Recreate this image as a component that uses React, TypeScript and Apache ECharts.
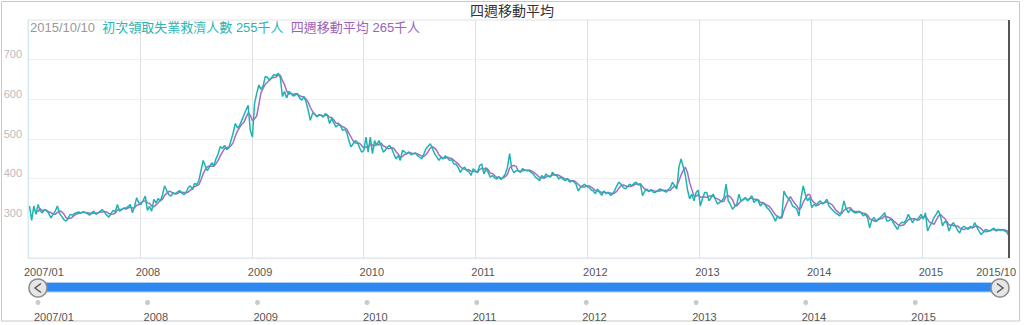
import React, { useEffect, useRef } from 'react';
import * as echarts from 'echarts';

// Weekly initial jobless claims (thousands), one array per calendar year.
// First observation: week ending 2007-01-06, then every 7 days.
const claims2007 = [
  331, 295, 331, 310, 335, 318, 314, 322, 320, 312, 301, 310, 318,
  331, 312, 305, 297, 293, 300, 310, 308, 312, 314, 316, 313, 317,
  315, 312, 308, 314, 318, 310, 314, 318, 322, 315, 308, 303, 312,
  320, 316, 335, 318, 322, 326, 326, 330, 335, 314, 330, 352, 339,
];
const claims2008 = [
  335, 345, 356, 320, 330, 318, 348, 339, 350, 343, 358, 382, 370,
  360, 356, 365, 362, 366, 370, 364, 360, 364, 377, 382, 373, 388,
  385, 395, 420, 446, 432, 420, 430, 440, 433, 450, 462, 481, 476,
  484, 473, 478, 496, 515, 539, 528, 534, 547, 560, 573, 585, 522,
];
const claims2009 = [
  505, 590, 615, 636, 625, 634, 658, 655, 648, 655, 662, 660, 666,
  655, 607, 620, 603, 620, 615, 608, 611, 615, 603, 598, 607, 594,
  573, 547, 564, 564, 556, 560, 560, 555, 564, 560, 539, 552, 540,
  530, 536, 534, 522, 525, 517, 496, 480, 488, 496, 492, 478, 467,
];
const claims2010 = [
  471, 505, 467, 505, 463, 496, 484, 496, 484, 467, 472, 480, 484,
  476, 462, 450, 458, 446, 471, 468, 463, 467, 460, 463, 465, 458,
  454, 450, 462, 476, 482, 488, 476, 463, 455, 446, 454, 450, 458,
  452, 446, 448, 437, 437, 428, 416, 424, 429, 420, 418, 408, 425,
];
const claims2011 = [
  420, 415, 433, 437, 412, 425, 416, 404, 408, 402, 399, 405, 398,
  404, 412, 429, 463, 425, 415, 420, 420, 416, 425, 422, 420, 420,
  416, 412, 404, 400, 395, 408, 402, 412, 406, 404, 416, 410, 408,
  399, 404, 398, 395, 400, 391, 395, 392, 386, 369, 378, 382, 386, 380,
];
const claims2012 = [
  378, 372, 369, 362, 374, 365, 358, 369, 362, 366, 358, 361, 370,
  382, 391, 386, 378, 374, 380, 386, 382, 388, 391, 384, 386, 357,
  368, 374, 369, 372, 366, 365, 370, 374, 372, 369, 366, 372, 378,
  391, 382, 374, 429, 450, 430, 408, 372, 349, 361, 344, 365, 371,
];
const claims2013 = [
  331, 350, 365, 365, 344, 352, 361, 348, 336, 340, 344, 352, 386,
  344, 335, 323, 330, 336, 361, 344, 348, 352, 344, 350, 357, 340,
  346, 344, 331, 338, 336, 327, 322, 314, 305, 293, 306, 300, 306,
  369, 357, 350, 344, 331, 328, 323, 306, 352, 382, 360, 344, 352,
];
const claims2014 = [
  327, 335, 331, 340, 344, 336, 340, 348, 331, 325, 319, 314, 310,
  306, 319, 344, 325, 314, 323, 318, 314, 314, 318, 314, 306, 310,
  302, 276, 296, 302, 293, 298, 302, 308, 314, 293, 294, 298, 289,
  280, 272, 285, 290, 289, 296, 310, 300, 289, 298, 296, 302, 310,
];
const claims2015 = [
  298, 314, 268, 280, 289, 302, 310, 320, 306, 281, 292, 289, 268,
  282, 289, 281, 270, 263, 276, 280, 276, 272, 280, 276, 289, 278,
  268, 259, 265, 272, 270, 268, 272, 275, 268, 272, 270, 272, 268,
  265, 255,
];

const firstWeek = [2007, 1, 6]; // year, month, day of the first weekly observation
const axisStart = [2007, 1, 1];
const yearTicks = [2008, 2009, 2010, 2011, 2012, 2013, 2014, 2015];
const timelineYears = [2007, 2008, 2009, 2010, 2011, 2012, 2013, 2014, 2015];
const yMin = 200;
const yMax = 800;
const yStep = 100;

const chartTitle = '四週移動平均';
const seriesNames = ['初次領取失業救濟人數', '四週移動平均'];
const unit = '千人';

const TEAL = '#1fb3b0';
const PURPLE = '#a56cc4';
const FONT = '"Liberation Sans", "Noto Sans CJK TC", sans-serif';

export default function App() {
  const ref = useRef<HTMLDivElement>(null);

  useEffect(() => {
    if (!ref.current) return;
    const chart = echarts.init(ref.current, null, { renderer: 'svg' });

    const DAY = 86400000;
    const claims = [
      ...claims2007, ...claims2008, ...claims2009, ...claims2010, ...claims2011,
      ...claims2012, ...claims2013, ...claims2014, ...claims2015,
    ];
    const t0 = Date.UTC(firstWeek[0], firstWeek[1] - 1, firstWeek[2]);
    const dates = claims.map((_, i) => t0 + i * 7 * DAY);
    const ma = claims.map((_, i) =>
      i < 3 ? null : Math.round((claims[i] + claims[i - 1] + claims[i - 2] + claims[i - 3]) / 4)
    );
    const xMin = Date.UTC(axisStart[0], axisStart[1] - 1, axisStart[2]);
    const xMax = dates[dates.length - 1];
    const last = new Date(xMax);
    const lastStr = `${last.getUTCFullYear()}/${last.getUTCMonth() + 1}/${last.getUTCDate()}`;
    const maxLabel = `${last.getUTCFullYear()}/${last.getUTCMonth() + 1}`;
    const minLabel = `${axisStart[0]}/${String(axisStart[1]).padStart(2, '0')}`;
    const lastClaim = claims[claims.length - 1];
    const lastMa = ma[ma.length - 1];

    const topTicks = [xMin, ...yearTicks.map((y) => Date.UTC(y, 0, 1)), xMax];
    const timelineTicks = timelineYears.map((y) => Date.UTC(y, 0, 1));

    const fmt = (v: number) => {
      if (Math.abs(v - xMin) < DAY) return minLabel;
      if (Math.abs(v - xMax) < DAY) return maxLabel;
      return String(new Date(v).getUTCFullYear());
    };

    const option: any = {
      animation: false,
      backgroundColor: '#fff',
      title: [
        {
          text: chartTitle,
          left: 'center',
          top: 4,
          padding: 0,
          textStyle: { fontSize: 14, fontWeight: 'normal', color: '#333', fontFamily: FONT },
        },
        {
          text: `{d|${lastStr}}  {a|${seriesNames[0]} ${lastClaim}${unit}}  {b|${seriesNames[1]} ${lastMa}${unit}}`,
          left: 30,
          top: 21,
          padding: 0,
          textStyle: {
            fontSize: 13,
            fontWeight: 'normal',
            fontFamily: FONT,
            color: '#999',
            rich: {
              d: { color: '#999', fontSize: 13, fontFamily: FONT },
              a: { color: '#2ab5b3', fontSize: 13, fontFamily: FONT },
              b: { color: '#9c62b8', fontSize: 13, fontFamily: FONT },
            },
          },
        },
      ],
      grid: [
        {
          left: 28, right: 15, top: 20, bottom: 67,
          show: true, borderColor: '#e2e2e2', borderWidth: 1,
          outerBoundsMode: 'none', containLabel: false,
        },
        {
          left: 38, right: 24, top: 302, height: 1,
          outerBoundsMode: 'none', containLabel: false,
        },
      ],
      xAxis: [
        {
          type: 'value',
          gridIndex: 0,
          min: xMin,
          max: xMax,
          axisLine: { show: true, lineStyle: { color: '#e2e8ee', width: 1 } },
          axisTick: { show: false, customValues: topTicks },
          axisLabel: {
            customValues: topTicks,
            formatter: fmt,
            color: '#555',
            fontSize: 11,
            fontFamily: FONT,
            margin: 8,
            align: 'left',
            padding: [0, -7, 0, -4],
            alignMaxLabel: 'right',
            hideOverlap: false,
          },
          splitLine: { show: true, lineStyle: { color: '#e0e0e0', width: 1 } },
        },
        {
          type: 'value',
          gridIndex: 1,
          min: xMin,
          max: xMax,
          axisLine: { show: false },
          axisTick: { show: false, customValues: timelineTicks },
          axisLabel: {
            customValues: timelineTicks,
            formatter: fmt,
            color: '#555',
            fontSize: 11,
            fontFamily: FONT,
            margin: 8,
            align: 'left',
            padding: [0, 0, 0, -4],
            hideOverlap: false,
          },
          splitLine: { show: false },
        },
      ],
      yAxis: [
        {
          type: 'value',
          gridIndex: 0,
          min: yMin,
          max: yMax,
          interval: yStep,
          axisLine: { show: true, lineStyle: { color: '#d4eaf6', width: 1 } },
          axisTick: { show: false },
          axisLabel: {
            showMinLabel: false,
            showMaxLabel: false,
            color: '#bbb',
            fontSize: 11,
            fontFamily: FONT,
            margin: 6,
            verticalAlign: 'bottom',
          },
          splitLine: { show: true, lineStyle: { color: '#f0f0f0', width: 1 } },
        },
        {
          type: 'value',
          gridIndex: 1,
          min: -1,
          max: 1,
          show: false,
        },
      ],
      series: [
        {
          name: seriesNames[1],
          type: 'line',
          xAxisIndex: 0,
          yAxisIndex: 0,
          data: dates.map((d, i) => [d, ma[i]]),
          showSymbol: false,
          connectNulls: false,
          lineStyle: { color: PURPLE, width: 1.5 },
          itemStyle: { color: PURPLE },
          silent: true,
          z: 2,
        },
        {
          name: seriesNames[0],
          type: 'line',
          xAxisIndex: 0,
          yAxisIndex: 0,
          data: dates.map((d, i) => [d, claims[i]]),
          showSymbol: false,
          lineStyle: { color: TEAL, width: 1.5 },
          itemStyle: { color: TEAL },
          silent: true,
          z: 3,
          markLine: {
            silent: true,
            symbol: ['none', 'none'],
            label: { show: false },
            lineStyle: { color: '#555', width: 2, type: 'solid' },
            data: [{ xAxis: xMax }],
          },
        },
        {
          type: 'scatter',
          xAxisIndex: 1,
          yAxisIndex: 1,
          data: timelineTicks.map((t) => [t, 0]),
          symbolSize: 5,
          itemStyle: { color: '#bdbdbd' },
          silent: true,
        },
      ],
      graphic: [
        {
          type: 'rect',
          silent: true,
          shape: { x: 1.5, y: 1.5, width: 1018, height: 319.5 },
          style: { fill: 'none', stroke: '#c8c8c8', lineWidth: 1 },
        },
        {
          type: 'rect',
          silent: true,
          shape: { x: 38, y: 282.5, width: 962, height: 9.5 },
          style: { fill: '#2d88ef', stroke: '#a9cdf6', lineWidth: 1 },
        },
        {
          type: 'circle',
          silent: true,
          shape: { cx: 38, cy: 288, r: 9 },
          style: { fill: '#e6e6e6', stroke: '#8a8a8a', lineWidth: 1.5 },
        },
        {
          type: 'polyline',
          silent: true,
          shape: { points: [[41, 283.5], [35, 288], [41, 292.5]] },
          style: { fill: 'none', stroke: '#5a5a5a', lineWidth: 1.5 },
        },
        {
          type: 'circle',
          silent: true,
          shape: { cx: 1000, cy: 288, r: 9 },
          style: { fill: '#e6e6e6', stroke: '#8a8a8a', lineWidth: 1.5 },
        },
        {
          type: 'polyline',
          silent: true,
          shape: { points: [[997, 283.5], [1003, 288], [997, 292.5]] },
          style: { fill: 'none', stroke: '#5a5a5a', lineWidth: 1.5 },
        },
      ],
    };

    chart.setOption(option);
    return () => chart.dispose();
  }, []);

  return (
    <div
      ref={ref}
      style={{ position: 'fixed', left: 0, top: 0, width: 1024, height: 325, background: '#fff' }}
    />
  );
}
